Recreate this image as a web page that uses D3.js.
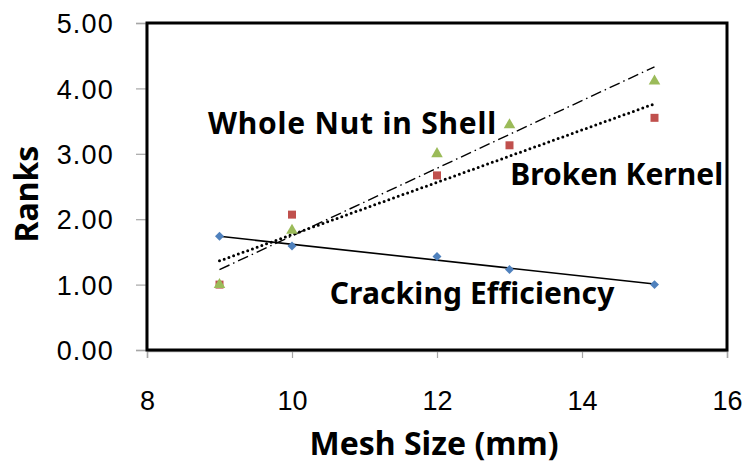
<!DOCTYPE html>
<html>
<head>
<meta charset="utf-8">
<script src="https://cdn.jsdelivr.net/npm/d3@7"></script>
<style>
  body { margin: 0; background: #fff; }
  svg { display: block; font-family: "Noto Sans", "Open Sans", sans-serif; }
</style>
</head>
<body>
<svg id="chart" width="746" height="463"></svg>
<script>
// mesh sizes (mm) and the ranks
var meshSizes = [9, 10, 12, 13, 15];
var crackingEfficiency = [1.74, 1.59, 1.43, 1.23, 1.00];
var brokenKernel = [1.00, 2.07, 2.67, 3.13, 3.55];
var wholeNut = [1.00, 1.83, 3.00, 3.44, 4.11];
var xTicks = [8, 10, 12, 14, 16];
var yTicks = [0, 1, 2, 3, 4, 5];

var svg = d3.select("#chart");
var margin = { top: 23, right: 19, bottom: 113, left: 147 };
var width = +svg.attr("width") - margin.left - margin.right;
var height = +svg.attr("height") - margin.top - margin.bottom;

var g = svg.append("g").attr("transform", "translate(" + margin.left + "," + margin.top + ")");

var x = d3.scaleLinear().domain([8, 16]).range([0, width]);
var y = d3.scaleLinear().domain([0, 5]).range([height, 0]);

// axes (grey lines, outward ticks)
var xAxis = g.append("g")
    .attr("transform", "translate(0," + (height + 1) + ")")
    .call(d3.axisBottom(x).tickValues(xTicks).tickSize(7).tickPadding(28));
var yAxis = g.append("g")
    .attr("transform", "translate(-1,0)")
    .call(d3.axisLeft(y).tickValues(yTicks).tickSize(10).tickPadding(22).tickFormat(d3.format(".2f")));

[xAxis, yAxis].forEach(function (a) {
    a.select(".domain").attr("stroke", "#a6a6a6").attr("stroke-width", 1.5);
    a.selectAll(".tick line").attr("stroke", "#a6a6a6").attr("stroke-width", 1.2);
    a.selectAll("text").attr("font-size", 27).attr("fill", "#000").attr("font-family", null);
});
xAxis.selectAll("text").attr("dy", "0.9em");
yAxis.selectAll("text").attr("dy", "0.36em").attr("letter-spacing", 1.2);

// plot border
g.append("rect")
    .attr("x", 0).attr("y", 0)
    .attr("width", width).attr("height", height)
    .attr("fill", "none")
    .attr("stroke", "#000")
    .attr("stroke-width", 3);

var series = [
    { name: "Cracking Efficiency", values: crackingEfficiency, color: "#4f81bd", shape: d3.symbolSquare, rot: 45, size: 40, dash: null, cap: "butt", lw: 1.6 },
    { name: "Broken Kernel", values: brokenKernel, color: "#c0504d", shape: d3.symbolSquare, rot: 0, size: 64, dash: "0 5", cap: "round", lw: 3 },
    { name: "Whole Nut in Shell", values: wholeNut, color: "#9bbb59", shape: d3.symbolTriangle, rot: 0, size: 58, dash: "11 4 1.5 4", cap: "butt", lw: 1.4 }
];

// least-squares trend line from the points
function trend(xs, ys) {
    var mx = d3.mean(xs), my = d3.mean(ys);
    var sxy = d3.sum(xs, function (v, i) { return (v - mx) * (ys[i] - my); });
    var sxx = d3.sum(xs, function (v) { return (v - mx) * (v - mx); });
    var b = sxy / sxx;
    return function (v) { return my + b * (v - mx); };
}

var line = d3.line()
    .x(function (d) { return x(d[0]); })
    .y(function (d) { return y(d[1]); });

series.forEach(function (s) {
    var f = trend(meshSizes, s.values);
    var ext = d3.extent(meshSizes);
    g.append("path")
        .attr("d", line([[ext[0], f(ext[0])], [ext[1], f(ext[1])]]))
        .attr("fill", "none")
        .attr("stroke", "#000")
        .attr("stroke-width", s.lw)
        .attr("stroke-linecap", s.cap)
        .attr("stroke-dasharray", s.dash);
});

series.forEach(function (s) {
    g.append("g").selectAll("path")
        .data(meshSizes)
        .enter().append("path")
        .attr("transform", function (d, i) {
            return "translate(" + x(d) + "," + y(s.values[i]) + ")rotate(" + s.rot + ")";
        })
        .attr("d", d3.symbol().type(s.shape).size(s.size))
        .attr("fill", s.color);
});

// series labels
var labels = [
    { text: "Whole Nut in Shell", xv: 8.84, yv: 3.31, ls: 0.8 },
    { text: "Broken Kernel", xv: 13.01, yv: 2.52, ls: 0 },
    { text: "Cracking Efficiency", xv: 10.52, yv: 0.71, ls: 0.1 }
];
g.selectAll("text.series-label")
    .data(labels)
    .enter().append("text")
    .attr("class", "series-label")
    .attr("x", function (d) { return x(d.xv); })
    .attr("y", function (d) { return y(d.yv); })
    .attr("font-size", 30)
    .attr("font-weight", "bold")
    .attr("letter-spacing", function (d) { return d.ls; })
    .text(function (d) { return d.text; });

// axis titles
svg.append("text")
    .attr("x", margin.left + x(12) - 3)
    .attr("y", 455)
    .attr("text-anchor", "middle")
    .attr("font-size", 32)
    .attr("font-weight", "bold")
    .text("Mesh Size (mm)");

svg.append("text")
    .attr("transform", "translate(38,194)rotate(-90)")
    .attr("text-anchor", "middle")
    .attr("font-size", 32)
    .attr("font-weight", "bold")
    .text("Ranks");
</script>
</body>
</html>
